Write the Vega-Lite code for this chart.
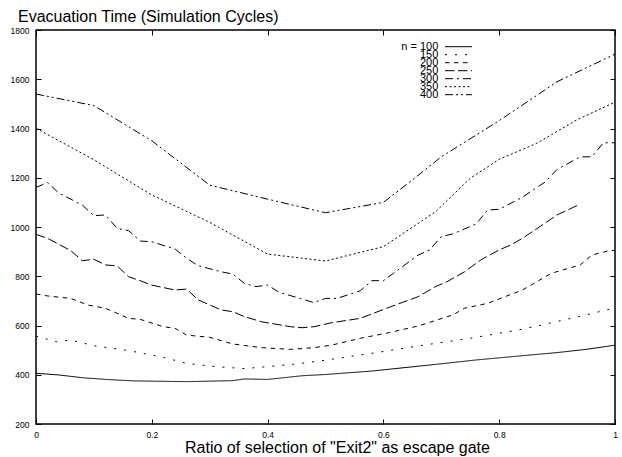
{
  "$schema": "https://vega.github.io/schema/vega-lite/v6.json",
  "width": 579,
  "height": 394,
  "autosize": {"type": "none"},
  "padding": {"left": 36, "top": 30, "right": 7, "bottom": 33},
  "background": "#ffffff",
  "title": {"text": "Evacuation Time (Simulation Cycles)", "anchor": "start", "frame": "group", "orient": "top", "offset": 9, "dx": -18, "dy": 21, "baseline": "alphabetic", "fontSize": 16, "fontWeight": "normal", "font": "Liberation Sans", "color": "#000000"},
  "config": {
    "view": {"stroke": "#000000", "strokeWidth": 1.5},
    "font": "Liberation Sans",
    "axis": {"grid": false, "domain": false, "tickColor": "#000000", "tickSize": -5, "tickWidth": 1, "labelColor": "#000000", "labelFontSize": 8.5, "labelFont": "Liberation Sans", "labelFlush": false, "titleColor": "#000000", "titleFont": "Liberation Sans"}
  },
  "datasets": {
    "lines": [
      {"n": 100, "x": 0, "y": 406}, {"n": 100, "x": 0.04, "y": 399}, {"n": 100, "x": 0.08, "y": 388}, {"n": 100, "x": 0.12, "y": 381}, {"n": 100, "x": 0.17, "y": 375}, {"n": 100, "x": 0.26, "y": 372}, {"n": 100, "x": 0.34, "y": 376}, {"n": 100, "x": 0.36, "y": 383}, {"n": 100, "x": 0.4, "y": 381}, {"n": 100, "x": 0.46, "y": 396}, {"n": 100, "x": 0.5, "y": 401}, {"n": 100, "x": 0.58, "y": 415}, {"n": 100, "x": 0.69, "y": 442}, {"n": 100, "x": 0.76, "y": 460}, {"n": 100, "x": 0.82, "y": 473}, {"n": 100, "x": 0.9, "y": 490}, {"n": 100, "x": 0.95, "y": 503}, {"n": 100, "x": 1.0, "y": 520},
      {"n": 150, "x": 0, "y": 557}, {"n": 150, "x": 0.035, "y": 534}, {"n": 150, "x": 0.06, "y": 541}, {"n": 150, "x": 0.1, "y": 518}, {"n": 150, "x": 0.16, "y": 498}, {"n": 150, "x": 0.22, "y": 471}, {"n": 150, "x": 0.26, "y": 446}, {"n": 150, "x": 0.31, "y": 433}, {"n": 150, "x": 0.36, "y": 425}, {"n": 150, "x": 0.4, "y": 433}, {"n": 150, "x": 0.45, "y": 444}, {"n": 150, "x": 0.49, "y": 456}, {"n": 150, "x": 0.58, "y": 487}, {"n": 150, "x": 0.66, "y": 517}, {"n": 150, "x": 0.75, "y": 548}, {"n": 150, "x": 0.84, "y": 585}, {"n": 150, "x": 0.89, "y": 611}, {"n": 150, "x": 0.95, "y": 643}, {"n": 150, "x": 0.99, "y": 666},
      {"n": 200, "x": 0, "y": 728}, {"n": 200, "x": 0.02, "y": 720}, {"n": 200, "x": 0.06, "y": 710}, {"n": 200, "x": 0.09, "y": 683}, {"n": 200, "x": 0.12, "y": 670}, {"n": 200, "x": 0.16, "y": 629}, {"n": 200, "x": 0.18, "y": 625}, {"n": 200, "x": 0.22, "y": 595}, {"n": 200, "x": 0.24, "y": 589}, {"n": 200, "x": 0.26, "y": 561}, {"n": 200, "x": 0.3, "y": 552}, {"n": 200, "x": 0.34, "y": 525}, {"n": 200, "x": 0.39, "y": 510}, {"n": 200, "x": 0.44, "y": 503}, {"n": 200, "x": 0.48, "y": 510}, {"n": 200, "x": 0.51, "y": 520}, {"n": 200, "x": 0.56, "y": 548}, {"n": 200, "x": 0.61, "y": 571}, {"n": 200, "x": 0.66, "y": 598}, {"n": 200, "x": 0.72, "y": 643}, {"n": 200, "x": 0.74, "y": 670}, {"n": 200, "x": 0.78, "y": 690}, {"n": 200, "x": 0.84, "y": 744}, {"n": 200, "x": 0.86, "y": 771}, {"n": 200, "x": 0.89, "y": 812}, {"n": 200, "x": 0.94, "y": 846}, {"n": 200, "x": 0.96, "y": 886}, {"n": 200, "x": 0.99, "y": 904}, {"n": 200, "x": 1.0, "y": 905},
      {"n": 250, "x": 0, "y": 970}, {"n": 250, "x": 0.02, "y": 954}, {"n": 250, "x": 0.06, "y": 904}, {"n": 250, "x": 0.08, "y": 863}, {"n": 250, "x": 0.1, "y": 869}, {"n": 250, "x": 0.12, "y": 846}, {"n": 250, "x": 0.14, "y": 842}, {"n": 250, "x": 0.16, "y": 798}, {"n": 250, "x": 0.18, "y": 782}, {"n": 250, "x": 0.2, "y": 764}, {"n": 250, "x": 0.24, "y": 744}, {"n": 250, "x": 0.26, "y": 748}, {"n": 250, "x": 0.28, "y": 704}, {"n": 250, "x": 0.32, "y": 663}, {"n": 250, "x": 0.34, "y": 656}, {"n": 250, "x": 0.36, "y": 636}, {"n": 250, "x": 0.39, "y": 615}, {"n": 250, "x": 0.44, "y": 595}, {"n": 250, "x": 0.46, "y": 591}, {"n": 250, "x": 0.48, "y": 595}, {"n": 250, "x": 0.51, "y": 611}, {"n": 250, "x": 0.56, "y": 629}, {"n": 250, "x": 0.61, "y": 674}, {"n": 250, "x": 0.66, "y": 717}, {"n": 250, "x": 0.69, "y": 758}, {"n": 250, "x": 0.71, "y": 778}, {"n": 250, "x": 0.74, "y": 818}, {"n": 250, "x": 0.77, "y": 869}, {"n": 250, "x": 0.8, "y": 907}, {"n": 250, "x": 0.82, "y": 927}, {"n": 250, "x": 0.84, "y": 954}, {"n": 250, "x": 0.87, "y": 1001}, {"n": 250, "x": 0.9, "y": 1049}, {"n": 250, "x": 0.94, "y": 1093},
      {"n": 300, "x": 0, "y": 1161}, {"n": 300, "x": 0.02, "y": 1180}, {"n": 300, "x": 0.04, "y": 1137}, {"n": 300, "x": 0.08, "y": 1089}, {"n": 300, "x": 0.1, "y": 1046}, {"n": 300, "x": 0.12, "y": 1049}, {"n": 300, "x": 0.14, "y": 995}, {"n": 300, "x": 0.16, "y": 985}, {"n": 300, "x": 0.18, "y": 943}, {"n": 300, "x": 0.2, "y": 940}, {"n": 300, "x": 0.24, "y": 911}, {"n": 300, "x": 0.26, "y": 873}, {"n": 300, "x": 0.28, "y": 843}, {"n": 300, "x": 0.32, "y": 818}, {"n": 300, "x": 0.34, "y": 809}, {"n": 300, "x": 0.36, "y": 771}, {"n": 300, "x": 0.38, "y": 758}, {"n": 300, "x": 0.4, "y": 764}, {"n": 300, "x": 0.42, "y": 735}, {"n": 300, "x": 0.48, "y": 693}, {"n": 300, "x": 0.5, "y": 710}, {"n": 300, "x": 0.52, "y": 710}, {"n": 300, "x": 0.56, "y": 741}, {"n": 300, "x": 0.58, "y": 782}, {"n": 300, "x": 0.6, "y": 782}, {"n": 300, "x": 0.66, "y": 886}, {"n": 300, "x": 0.68, "y": 907}, {"n": 300, "x": 0.7, "y": 961}, {"n": 300, "x": 0.72, "y": 972}, {"n": 300, "x": 0.76, "y": 1012}, {"n": 300, "x": 0.78, "y": 1069}, {"n": 300, "x": 0.8, "y": 1072}, {"n": 300, "x": 0.84, "y": 1121}, {"n": 300, "x": 0.88, "y": 1184}, {"n": 300, "x": 0.9, "y": 1234}, {"n": 300, "x": 0.94, "y": 1285}, {"n": 300, "x": 0.96, "y": 1285}, {"n": 300, "x": 0.98, "y": 1342}, {"n": 300, "x": 1.0, "y": 1342},
      {"n": 350, "x": 0, "y": 1401}, {"n": 350, "x": 0.1, "y": 1273}, {"n": 350, "x": 0.2, "y": 1130}, {"n": 350, "x": 0.3, "y": 1019}, {"n": 350, "x": 0.4, "y": 890}, {"n": 350, "x": 0.5, "y": 862}, {"n": 350, "x": 0.6, "y": 920}, {"n": 350, "x": 0.69, "y": 1062}, {"n": 350, "x": 0.75, "y": 1198}, {"n": 350, "x": 0.8, "y": 1275}, {"n": 350, "x": 0.865, "y": 1340}, {"n": 350, "x": 0.934, "y": 1435}, {"n": 350, "x": 1.0, "y": 1507},
      {"n": 400, "x": 0, "y": 1540}, {"n": 400, "x": 0.1, "y": 1493}, {"n": 400, "x": 0.2, "y": 1350}, {"n": 400, "x": 0.3, "y": 1170}, {"n": 400, "x": 0.4, "y": 1113}, {"n": 400, "x": 0.5, "y": 1058}, {"n": 400, "x": 0.6, "y": 1100}, {"n": 400, "x": 0.65, "y": 1191}, {"n": 400, "x": 0.7, "y": 1285}, {"n": 400, "x": 0.8, "y": 1432}, {"n": 400, "x": 0.9, "y": 1590}, {"n": 400, "x": 1.0, "y": 1702}
    ]
  },
  "data": {"name": "lines"},
  "layer": [
    {
      "mark": {"type": "line", "color": "#000000", "strokeWidth": 1, "strokeCap": "butt"},
      "encoding": {
        "x": {"field": "x", "type": "quantitative", "scale": {"domain": [0, 1], "nice": false, "zero": false},
          "axis": {"orient": "bottom", "values": [0, 0.2, 0.4, 0.6, 0.8, 1], "format": "~g", "labelPadding": 11,
            "title": "Ratio of selection of \"Exit2\" as escape gate", "titleFontSize": 16, "titleFontWeight": "normal", "titleBaseline": "alphabetic", "titleX": 301, "titleY": 28}},
        "y": {"field": "y", "type": "quantitative", "scale": {"domain": [200, 1800], "nice": false, "zero": false},
          "axis": {"orient": "left", "values": [200, 400, 600, 800, 1000, 1200, 1400, 1600, 1800], "format": "d", "labelPadding": 12, "title": null}},
        "strokeDash": {"field": "n", "type": "nominal",
          "scale": {"domain": [100, 150, 200, 250, 300, 350, 400], "range": [[1, 0], [2, 8], [4.5, 4.5], [9.5, 3.5], [8, 4, 2, 4], [2, 2.5], [8, 3, 2, 3, 2, 3]]},
          "legend": {"orient": "none", "legendX": 408.5, "legendY": 14.6, "title": null, "padding": 0, "symbolType": "stroke", "symbolSize": 729, "symbolStrokeWidth": 1, "symbolStrokeColor": "#000000", "labelFontSize": 11, "labelFont": "Liberation Sans", "labelColor": "#000000", "labelAlign": "right", "labelOffset": -34.2, "clipHeight": 4.2, "rowPadding": -4,
            "labelExpr": "datum.value == 100 ? 'n = 100' : datum.label",
            "encode": {"entries": {"update": {"width": {"value": 40}}}}}}
      }
    },
    {
      "mark": {"type": "point", "opacity": 0},
      "encoding": {
        "x": {"field": "x", "type": "quantitative", "axis": {"orient": "top", "values": [0, 0.2, 0.4, 0.6, 0.8, 1], "labels": false, "title": null}},
        "y": {"field": "y", "type": "quantitative", "axis": {"orient": "right", "values": [200, 400, 600, 800, 1000, 1200, 1400, 1600, 1800], "labels": false, "title": null}}
      }
    }
  ],
  "resolve": {"axis": {"x": "independent", "y": "independent"}}
}
